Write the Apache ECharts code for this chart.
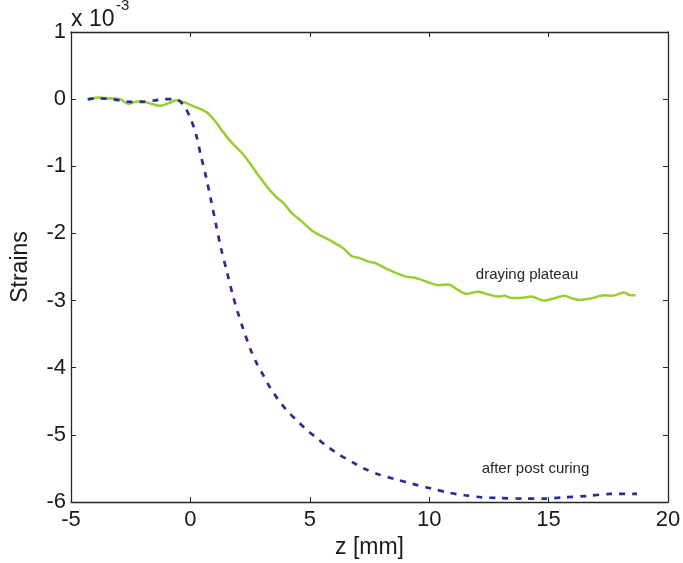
<!DOCTYPE html>
<html>
<head>
<meta charset="utf-8">
<script src="https://cdn.jsdelivr.net/npm/echarts@6/dist/echarts.min.js"></script>
<style>
html,body{margin:0;padding:0;background:#fff;}
#chart{width:683px;height:563px;}
</style>
</head>
<body>
<div id="chart"></div>
<script>
// z [mm], strain (x 10^-3)
var dryingPlateau = [
  [-4.3,-0.01],[-3.85,0.025],[-3.4,0.01],[-2.95,0],[-2.6,-0.07],[-2.4,-0.05],[-2.13,-0.03],
  [-1.71,-0.06],[-1.3,-0.1],[-0.9,-0.06],[-0.6,-0.015],[-0.3,-0.04],[0.1,-0.1],[0.65,-0.19],
  [1.0,-0.31],[1.35,-0.48],[1.76,-0.66],[2.18,-0.81],[2.5,-0.96],[2.875,-1.15],[3.2,-1.30],
  [3.57,-1.45],[3.9,-1.55],[4.26,-1.70],[4.6,-1.80],[5.1,-1.96],[5.5,-2.04],[5.93,-2.12],
  [6.4,-2.22],[6.76,-2.34],[7.1,-2.37],[7.46,-2.42],[7.74,-2.44],[8.29,-2.54],[8.99,-2.64],
  [9.4,-2.66],[9.9,-2.72],[10.38,-2.77],[10.79,-2.76],[11.2,-2.84],[11.55,-2.90],[12.04,-2.87],
  [12.5,-2.91],[12.88,-2.94],[13.15,-2.93],[13.43,-2.96],[13.85,-2.96],[14.26,-2.94],[14.82,-3.0],
  [15.2,-2.97],[15.65,-2.93],[16.0,-2.97],[16.28,-2.99],[16.76,-2.97],[17.32,-2.92],[17.67,-2.93],
  [18.15,-2.88],[18.43,-2.92],[18.64,-2.92]
];
var afterPostCuring = [
  [-4.3,0],[-3.8,0.01],[-3.3,0],[-2.96,-0.02],[-2.5,-0.04],[-2.0,-0.04],[-1.5,-0.02],[-1.15,0],
  [-0.6,0],[-0.25,-0.11],[0.03,-0.31],[0.24,-0.53],[0.45,-0.86],[0.65,-1.15],[0.86,-1.5],
  [1.05,-1.83],[1.28,-2.22],[1.55,-2.6],[1.76,-2.9],[1.97,-3.16],[2.18,-3.39],[2.53,-3.74],
  [2.8,-3.95],[3.08,-4.13],[3.36,-4.31],[3.71,-4.49],[4.05,-4.64],[4.47,-4.79],[4.89,-4.93],
  [5.3,-5.05],[5.72,-5.17],[6.21,-5.29],[6.8,-5.41],[7.32,-5.51],[7.9,-5.59],[8.57,-5.66],
  [9.3,-5.73],[10.1,-5.80],[10.8,-5.86],[11.49,-5.90],[12.2,-5.93],[12.88,-5.94],[13.99,-5.95],
  [14.82,-5.95],[15.65,-5.93],[16.63,-5.91],[17.6,-5.88],[18.7,-5.88]
];
var xTicks = {min:-5, max:20, interval:5};
var yTicks = {min:-6, max:1, interval:1};
var annotations = [
  {name:'draying plateau', coord:[14.1,-2.62]},
  {name:'after post curing', coord:[14.45,-5.5]}
];

var FONT = '"Liberation Sans", Arial, sans-serif';
var AX = '#262626';
var chart = echarts.init(document.getElementById('chart'), null, {renderer:'canvas'});
function axisCommon(show){
  return {
    axisLine:{show:true, onZero:false, lineStyle:{color:AX, width:1.3}},
    axisTick:{show:true, inside:true, length:5, lineStyle:{color:AX, width:1}},
    splitLine:{show:false},
    axisLabel:{show:show, color:'#1a1a1a', fontSize:22, fontFamily:FONT}
  };
}
var xBottom = Object.assign({type:'value', position:'bottom', min:xTicks.min, max:xTicks.max, interval:xTicks.interval,
  name:'z [mm]', nameLocation:'middle', nameGap:32,
  nameTextStyle:{color:'#1a1a1a', fontSize:23, fontFamily:FONT}}, axisCommon(true));
xBottom.axisLabel.margin = 7;
var xTop = Object.assign({type:'value', position:'top', min:xTicks.min, max:xTicks.max, interval:xTicks.interval}, axisCommon(false));
var yLeft = Object.assign({type:'value', position:'left', min:yTicks.min, max:yTicks.max, interval:yTicks.interval,
  name:'Strains', nameLocation:'middle', nameGap:39, nameRotate:90,
  nameTextStyle:{color:'#1a1a1a', fontSize:23, fontFamily:FONT}}, axisCommon(true));
yLeft.axisLabel.margin = 5;
var yRight = Object.assign({type:'value', position:'right', min:yTicks.min, max:yTicks.max, interval:yTicks.interval}, axisCommon(false));

chart.setOption({
  animation:false,
  backgroundColor:'#ffffff',
  grid:{left:71, right:15, top:32, bottom:61, containLabel:false, outerBoundsMode:'none'},
  xAxis:[xBottom, xTop],
  yAxis:[yLeft, yRight],
  graphic:[
    {type:'text', left:71, top:8, style:{text:'x 10', font:'23px '+FONT, fill:'#1a1a1a'}},
    {type:'text', left:116, top:-2, style:{text:'-3', font:'15px '+FONT, fill:'#1a1a1a'}}
  ],
  series:[
    {type:'line', name:'draying plateau', data:dryingPlateau, xAxisIndex:0, yAxisIndex:0,
     showSymbol:false, smooth:0.3, lineStyle:{color:'#9acd32', width:2.5}, itemStyle:{color:'#9acd32'},
     markPoint:{symbol:'circle', symbolSize:0, silent:true,
       label:{show:true, position:'inside', formatter:'{b}', color:'#262626', fontSize:15, fontFamily:FONT},
       data:[{name:annotations[0].name, coord:annotations[0].coord}]}},
    {type:'line', name:'after post curing', data:afterPostCuring, xAxisIndex:0, yAxisIndex:0,
     showSymbol:false, smooth:0.3, lineStyle:{color:'#2b2d8e', width:2.7, type:[6,7]}, itemStyle:{color:'#2b2d8e'},
     markPoint:{symbol:'circle', symbolSize:0, silent:true,
       label:{show:true, position:'inside', formatter:'{b}', color:'#262626', fontSize:15, fontFamily:FONT},
       data:[{name:annotations[1].name, coord:annotations[1].coord}]}}
  ]
});
</script>
</body>
</html>
